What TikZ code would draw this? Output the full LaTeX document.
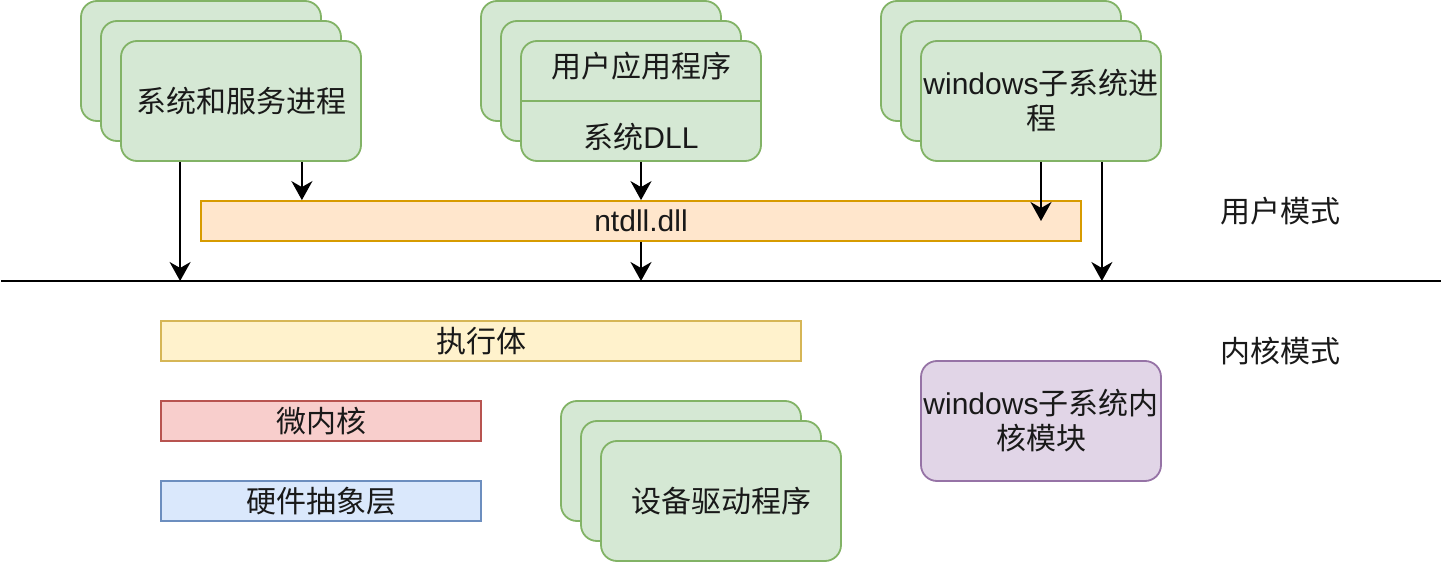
\documentclass[tikz,border=0pt]{standalone}
\usepackage{fontspec}
\setmainfont{Liberation Sans}
\newfontfamily\cjk{Noto Sans CJK SC}
\usetikzlibrary{arrows.meta}
\definecolor{grnfill}{HTML}{D5E8D4}\definecolor{grnline}{HTML}{82B366}
\definecolor{orgfill}{HTML}{FFE6CC}\definecolor{orgline}{HTML}{D79B00}
\definecolor{ylwfill}{HTML}{FFF2CC}\definecolor{ylwline}{HTML}{D6B656}
\definecolor{redfill}{HTML}{F8CECC}\definecolor{redline}{HTML}{B85450}
\definecolor{blufill}{HTML}{DAE8FC}\definecolor{bluline}{HTML}{6C8EBF}
\definecolor{prpfill}{HTML}{E1D5E7}\definecolor{prpline}{HTML}{9673A6}

\begin{document}
\begin{tikzpicture}[x=1pt,y=-1pt,
  every node/.style={font=\fontsize{30}{35}\selectfont,inner sep=0pt,text=black!90},
  stack/.style={draw=grnline,fill=grnfill,line width=1.8pt,rounded corners=16pt,minimum width=240pt,minimum height=120pt,align=center},
  bar/.style={line width=1.8pt,minimum height=40pt},
  arr/.style={line width=2pt,-{Stealth[length=19pt,width=21pt,inset=6pt]}}]
\useasboundingbox (0,0) rectangle (1444,564);

\node[stack] (sys3) at (201,61) {};
\node[stack] (sys2) at (221,81) {};
\node[stack] (sys) at (241,101) {\cjk 系统和服务进程};

\node[stack] (app3) at (601,61) {};
\node[stack] (app2) at (621,81) {};
\node[stack] (appfront) at (641,101) {};
\draw[grnline,line width=1.8pt] (appfront.west) -- (appfront.east);
\node (app) at (641,66) {\cjk 用户应用程序};
\node (dll) at (641,137) {{\cjk 系统}DLL};

\node[stack] (win3) at (1001,61) {};
\node[stack] (win2) at (1021,81) {};
\node[stack] (winproc) at (1041,101) {windows{\cjk 子系统进}\\{\cjk 程}};

\node[bar,draw=orgline,fill=orgfill,minimum width=880pt] (ntdll) at (641,221) {ntdll.dll};

\coordinate (divL) at (1,281);
\coordinate (divR) at (1441,281);
\draw[line width=2pt] (divL) -- (divR);

\coordinate (s1) at ([xshift=60pt]sys.south west);
\coordinate (s2) at ([xshift=-60pt]sys.south east);
\coordinate (w2) at ([xshift=-60pt]winproc.south east);
\draw[arr] (s1) -- (s1 |- divL);
\draw[arr] (s2) -- (s2 |- ntdll.north);
\draw[arr] (appfront.south) -- (ntdll.north);
\draw[arr] (ntdll.south) -- (ntdll.south |- divL);
\draw[arr] (winproc.south) -- (winproc.south |- ntdll.center);
\draw[arr] (w2) -- (w2 |- divL);

\node (umode) at (1280,211) {\cjk 用户模式};
\node (kmode) at (1280,351) {\cjk 内核模式};

\node[bar,draw=ylwline,fill=ylwfill,minimum width=640pt] (exec) at (481,341) {\cjk 执行体};
\node[bar,draw=redline,fill=redfill,minimum width=320pt] (micro) at (321,421) {\cjk 微内核};
\node[bar,draw=bluline,fill=blufill,minimum width=320pt] (hal) at (321,501) {\cjk 硬件抽象层};

\node[stack] (drv3) at (681,461) {};
\node[stack] (drv2) at (701,481) {};
\node[stack] (drv) at (721,501) {\cjk 设备驱动程序};

\node[stack,draw=prpline,fill=prpfill] (winkern) at (1041,421) {windows{\cjk 子系统内}\\{\cjk 核模块}};
\end{tikzpicture}
\end{document}
